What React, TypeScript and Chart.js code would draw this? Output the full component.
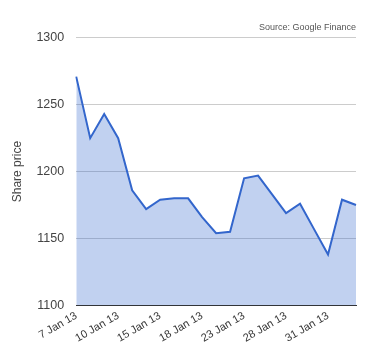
import React, { useEffect, useRef } from "react";
import { Chart, registerables } from "chart.js";

Chart.register(...registerables);

const dates = [
  "7 Jan 13", "8 Jan 13", "9 Jan 13", "10 Jan 13", "11 Jan 13",
  "14 Jan 13", "15 Jan 13", "16 Jan 13", "17 Jan 13", "18 Jan 13",
  "21 Jan 13", "22 Jan 13", "23 Jan 13", "24 Jan 13", "25 Jan 13",
  "28 Jan 13", "29 Jan 13", "30 Jan 13", "31 Jan 13", "1 Feb 13", "4 Feb 13",
];
const prices = [
  1271, 1225, 1243, 1225, 1186, 1172, 1179, 1180, 1180, 1166,
  1154, 1155, 1195, 1197, 1183, 1169, 1176, 1157, 1138, 1179, 1175,
];
const yTicks = [1100, 1150, 1200, 1250, 1300];
const labelEvery = 3;
const yTitle = "Share price";
const sourceText = "Source: Google Finance";

export default function App() {
  const ref = useRef<HTMLCanvasElement | null>(null);
  useEffect(() => {
    if (!ref.current) return;
    const chart = new Chart(ref.current, {
      type: "line",
      data: {
        labels: dates,
        datasets: [
          {
            data: prices,
            borderColor: "#3366cc",
            borderWidth: 2,
            backgroundColor: "rgba(51,102,204,0.3)",
            fill: "start",
            tension: 0,
            pointRadius: 0,
          },
        ],
      },
      options: {
        animation: false,
        responsive: false,
        maintainAspectRatio: false,
        layout: { padding: { left: 10, right: 24, top: 0, bottom: 11 } },
        plugins: {
          legend: { display: false },
          tooltip: { enabled: false },
          title: {
            display: true,
            text: sourceText,
            align: "end",
            color: "#555",
            font: { family: "Arial, 'Liberation Sans'", size: 9, weight: "normal" },
            padding: { top: 22, bottom: 5 },
          },
        },
        scales: {
          x: {
            offset: false,
            grid: { display: false, drawTicks: false },
            border: { display: true, color: "#333", width: 1 },
            ticks: {
              autoSkip: false,
              minRotation: 30,
              maxRotation: 30,
              padding: 4,
              color: "#333",
              font: { family: "Arial, 'Liberation Sans'", size: 11 },
              callback: (_v: any, i: number) => (i % labelEvery === 0 ? dates[i] : ""),
            },
          },
          y: {
            min: yTicks[0],
            max: yTicks[yTicks.length - 1],
            afterBuildTicks: (axis: any) => {
              axis.ticks = yTicks.map((v) => ({ value: v }));
            },
            grid: { color: "#cccccc", drawTicks: false },
            border: { display: false },
            ticks: {
              padding: 12,
              color: "#444",
              font: { family: "Arial, 'Liberation Sans'", size: 12.5 },
              callback: (v: any) => String(v),
            },
            title: {
              display: true,
              text: yTitle,
              color: "#444",
              font: { family: "Arial, 'Liberation Sans'", size: 12 },
              padding: { top: 0, bottom: 0 },
            },
          },
        },
      },
    });
    return () => chart.destroy();
  }, []);
  return (
    <div style={{ position: "fixed", left: 0, top: 0, width: 380, height: 360, background: "#fff" }}>
      <canvas ref={ref} width={380} height={360} style={{ width: 380, height: 360 }} />
    </div>
  );
}
